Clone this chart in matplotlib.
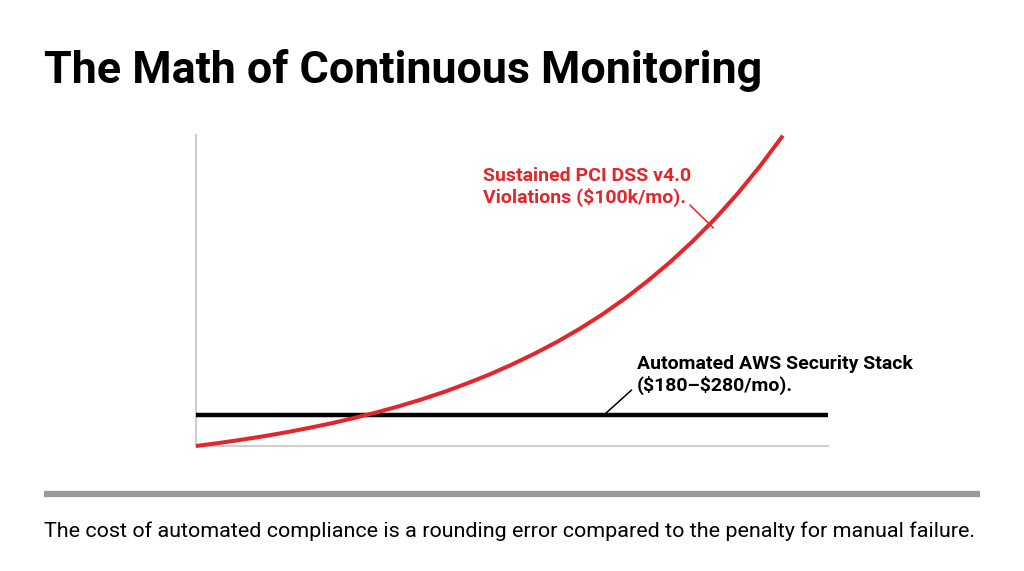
import matplotlib
matplotlib.use("Agg")
import matplotlib.pyplot as plt
from matplotlib.lines import Line2D

# ---- data (arbitrary cost index, 0-100) ----
months = [0, 0.5, 1, 1.5, 2, 2.5, 3, 3.5, 4, 4.5, 5, 5.5, 6, 6.5, 7, 7.5,
          8, 8.5, 9, 9.5, 10, 10.5, 11, 11.5, 12, 12.5, 13]
violation_cost = [0, 0.95, 2.0, 3.15, 4.4, 5.8, 7.3, 9.0, 10.8, 12.8, 15.0, 17.4,
                  20.1, 23.0, 26.2, 29.7, 33.5, 37.7, 42.3, 47.4, 53.0, 59.1,
                  65.8, 73.1, 81.2, 90.1, 99.8]
automation_cost = 10.0
x_range = [0, 14]
y_range = [0, 100]

title = "The Math of Continuous Monitoring"
caption = "The cost of automated compliance is a rounding error compared to the penalty for manual failure."
red_label = "Sustained PCI DSS v4.0\nViolations (\\$100k/mo)."
black_label = "Automated AWS Security Stack\n(\\$180\u2013\\$280/mo)."

RED = "#e3262b"
GRAY_SPINE = "#cfcfcf"
FONT = ["Roboto", "DejaVu Sans"]

plt.rcParams["font.family"] = FONT

fig = plt.figure(figsize=(10.24, 5.71), dpi=100)
fig.patch.set_facecolor("white")

ax = fig.add_axes([196 / 1024, (571 - 446) / 571, 632 / 1024, 311 / 571])
ax.set_xlim(*x_range)
ax.set_ylim(*y_range)
for s in ["top", "right"]:
    ax.spines[s].set_visible(False)
for s in ["left", "bottom"]:
    ax.spines[s].set_color(GRAY_SPINE)
    ax.spines[s].set_linewidth(1.6)
ax.set_xticks([])
ax.set_yticks([])

ax.plot(x_range, [automation_cost, automation_cost], color="black", lw=3.2,
        solid_capstyle="butt", clip_on=False, zorder=3)
ax.plot(months, violation_cost, color=RED, lw=2.9, solid_capstyle="butt",
        solid_joinstyle="round", clip_on=False, zorder=4)

# red annotation
ax.text(6.36, 89.8, red_label, color=RED, fontsize=14, fontweight="bold",
        ha="left", va="top", linespacing=1.22, family=FONT)
ax.annotate("", xy=(11.46, 70.1), xytext=(10.94, 77.5),
            arrowprops=dict(arrowstyle="-", color=RED, lw=1.1, shrinkA=0, shrinkB=0))

# black annotation
ax.text(9.77, 29.4, black_label, color="black", fontsize=14, fontweight="bold",
        ha="left", va="top", linespacing=1.22, family=FONT)
ax.annotate("", xy=(9.06, 10.3), xytext=(9.65, 18.0),
            arrowprops=dict(arrowstyle="-", color="black", lw=1.1, shrinkA=0, shrinkB=0))

# title
fig.text(44 / 1024, 1 - 83 / 571, title, fontsize=32.3, fontweight="bold",
         ha="left", va="baseline", color="black", family=FONT)

# rule
fig.add_artist(Line2D([44 / 1024, 980 / 1024], [1 - 494 / 571, 1 - 494 / 571],
                      color="#9b9b9b", lw=4.5, solid_capstyle="butt",
                      transform=fig.transFigure))

# caption
fig.text(44 / 1024, 1 - 537 / 571, caption, fontsize=15.47, ha="left",
         va="baseline", color="black", family=FONT)

fig.savefig("out.png", dpi=100, facecolor="white")
